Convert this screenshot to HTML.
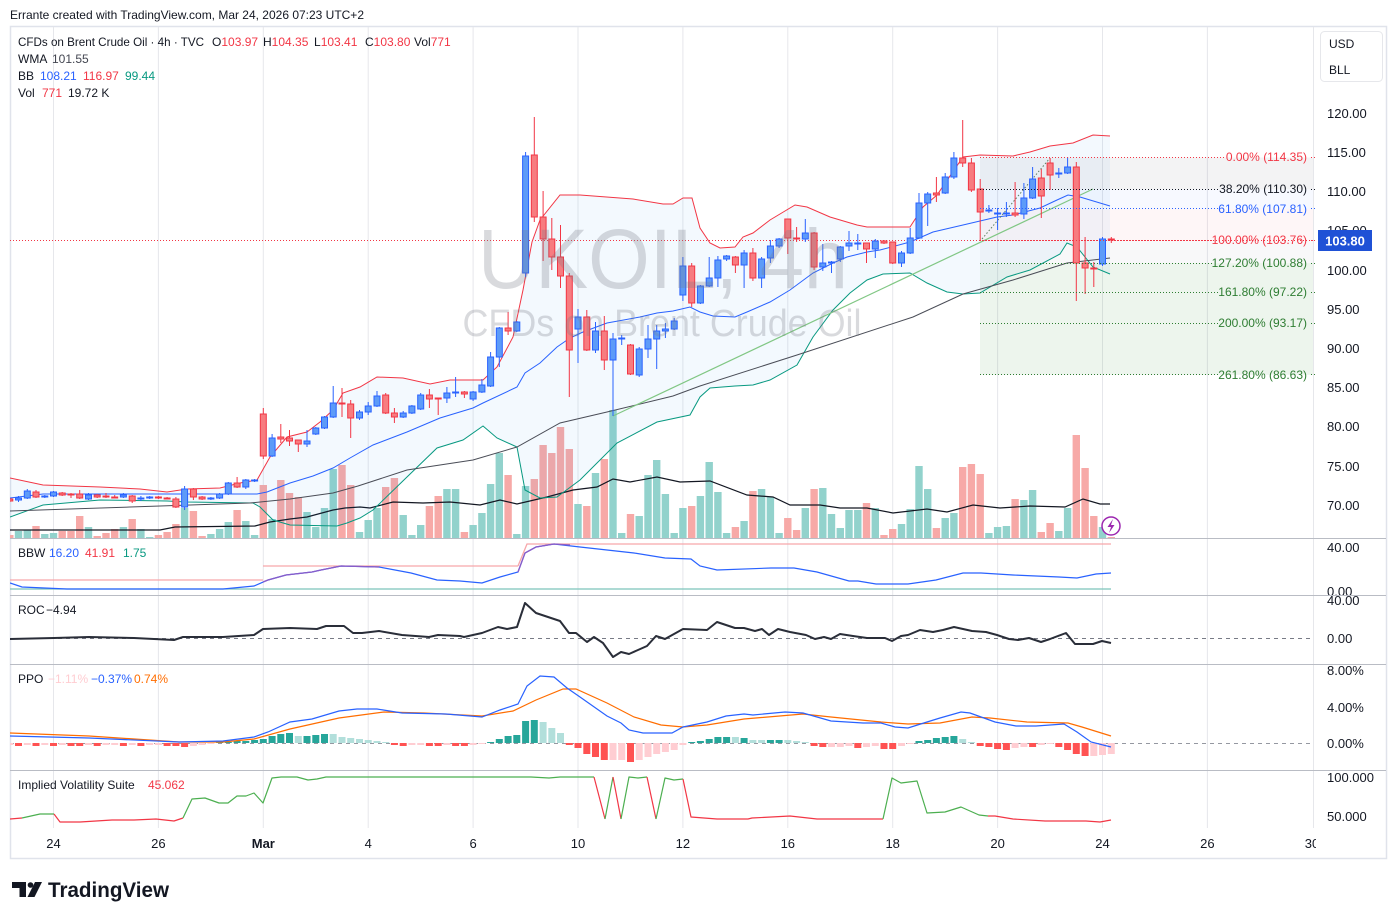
<!DOCTYPE html>
<html><head><meta charset="utf-8"><style>
html,body{margin:0;padding:0;background:#fff;}
svg{display:block;font-family:"Liberation Sans",Arial,sans-serif;}
</style></head><body>
<svg width="1396" height="920" viewBox="0 0 1396 920" xmlns="http://www.w3.org/2000/svg">
<defs>
<clipPath id="plot"><rect x="10" y="27" width="1303" height="511"/></clipPath>
<clipPath id="lower"><rect x="10" y="538" width="1303" height="292"/></clipPath>
</defs>
<rect width="1396" height="920" fill="#fff"/>
<text x="10" y="19" font-size="12" fill="#131722" textLength="354">Errante created with TradingView.com, Mar 24, 2026 07:23 UTC+2</text>
<!-- frame -->
<rect x="10.5" y="26.5" width="1376" height="832" fill="none" stroke="#e0e3eb" stroke-width="1.5"/>
<!-- vertical grid -->
<g stroke="#e6e7eb" stroke-width="1">
<path d="M53.5 27V828M158.4 27V828M263.3 27V828M368.2 27V828M473.1 27V828M578 27V828M682.9 27V828M787.8 27V828M892.7 27V828M997.6 27V828M1102.5 27V828M1207.4 27V828M1313.5 27V828"/>
</g>

<g clip-path="url(#plot)">
<!-- volume -->
<g fill="#92d2cc">
<rect x="14.8" y="531" width="7.4" height="7"/><rect x="23.6" y="530" width="7.4" height="8"/><rect x="41.1" y="534" width="7.4" height="4"/><rect x="49.8" y="533" width="7.4" height="5"/><rect x="84.8" y="527" width="7.4" height="11"/><rect x="119.7" y="527" width="7.4" height="11"/><rect x="137.2" y="529" width="7.4" height="9"/><rect x="146" y="537" width="7.4" height="1"/><rect x="180.9" y="508" width="7.4" height="30"/><rect x="207.2" y="534" width="7.4" height="4"/><rect x="215.9" y="529" width="7.4" height="9"/><rect x="224.6" y="522" width="7.4" height="16"/><rect x="242.1" y="521" width="7.4" height="17"/><rect x="250.9" y="535" width="7.4" height="3"/><rect x="268.4" y="519" width="7.4" height="19"/><rect x="303.3" y="512" width="7.4" height="26"/><rect x="312.1" y="527" width="7.4" height="11"/><rect x="320.8" y="508" width="7.4" height="30"/><rect x="329.5" y="469" width="7.4" height="69"/><rect x="355.8" y="532" width="7.4" height="6"/><rect x="364.5" y="520" width="7.4" height="18"/><rect x="373.3" y="508" width="7.4" height="30"/><rect x="399.5" y="515" width="7.4" height="23"/><rect x="408.2" y="535" width="7.4" height="3"/><rect x="417" y="525" width="7.4" height="13"/><rect x="443.2" y="489" width="7.4" height="49"/><rect x="451.9" y="489" width="7.4" height="49"/><rect x="469.4" y="525" width="7.4" height="13"/><rect x="478.2" y="513" width="7.4" height="25"/><rect x="486.9" y="484" width="7.4" height="54"/><rect x="495.6" y="453" width="7.4" height="85"/><rect x="513.1" y="534" width="7.4" height="4"/><rect x="521.9" y="486" width="7.4" height="52"/><rect x="574.3" y="504" width="7.4" height="34"/><rect x="591.8" y="473" width="7.4" height="65"/><rect x="609.3" y="410" width="7.4" height="128"/><rect x="618" y="533" width="7.4" height="5"/><rect x="635.5" y="516" width="7.4" height="22"/><rect x="644.3" y="475" width="7.4" height="63"/><rect x="653" y="460" width="7.4" height="78"/><rect x="661.7" y="494" width="7.4" height="44"/><rect x="670.5" y="533" width="7.4" height="5"/><rect x="679.2" y="508" width="7.4" height="30"/><rect x="696.7" y="496" width="7.4" height="42"/><rect x="705.5" y="462" width="7.4" height="76"/><rect x="714.2" y="492" width="7.4" height="46"/><rect x="722.9" y="533" width="7.4" height="5"/><rect x="740.4" y="521" width="7.4" height="17"/><rect x="757.9" y="489" width="7.4" height="49"/><rect x="766.7" y="497" width="7.4" height="41"/><rect x="775.4" y="533" width="7.4" height="5"/><rect x="801.6" y="508" width="7.4" height="30"/><rect x="819.1" y="488" width="7.4" height="50"/><rect x="827.8" y="514" width="7.4" height="24"/><rect x="836.6" y="528" width="7.4" height="10"/><rect x="845.3" y="510" width="7.4" height="28"/><rect x="854.1" y="510" width="7.4" height="28"/><rect x="871.6" y="508" width="7.4" height="30"/><rect x="897.8" y="524" width="7.4" height="14"/><rect x="906.5" y="509" width="7.4" height="29"/><rect x="915.3" y="466" width="7.4" height="72"/><rect x="924" y="489" width="7.4" height="49"/><rect x="941.5" y="518" width="7.4" height="20"/><rect x="950.2" y="513" width="7.4" height="25"/><rect x="985.2" y="533" width="7.4" height="5"/><rect x="993.9" y="527" width="7.4" height="11"/><rect x="1002.7" y="526" width="7.4" height="12"/><rect x="1020.2" y="500" width="7.4" height="38"/><rect x="1028.9" y="490" width="7.4" height="48"/><rect x="1055.1" y="531" width="7.4" height="7"/><rect x="1063.9" y="508" width="7.4" height="30"/><rect x="1098.8" y="527" width="7.4" height="11"/>
</g>
<g fill="#f7a9a7">
<rect x="6.1" y="535" width="7.4" height="3"/><rect x="32.3" y="526" width="7.4" height="12"/><rect x="58.5" y="531" width="7.4" height="7"/><rect x="67.3" y="531" width="7.4" height="7"/><rect x="76" y="516" width="7.4" height="22"/><rect x="93.5" y="536" width="7.4" height="2"/><rect x="102.3" y="533" width="7.4" height="5"/><rect x="111" y="529" width="7.4" height="9"/><rect x="128.5" y="519" width="7.4" height="19"/><rect x="154.7" y="535" width="7.4" height="3"/><rect x="163.4" y="532" width="7.4" height="6"/><rect x="172.2" y="524" width="7.4" height="14"/><rect x="189.7" y="511" width="7.4" height="27"/><rect x="198.4" y="536" width="7.4" height="2"/><rect x="233.4" y="510" width="7.4" height="28"/><rect x="259.6" y="485" width="7.4" height="53"/><rect x="277.1" y="480" width="7.4" height="58"/><rect x="285.8" y="493" width="7.4" height="45"/><rect x="294.6" y="497" width="7.4" height="41"/><rect x="338.3" y="465" width="7.4" height="73"/><rect x="347" y="485" width="7.4" height="53"/><rect x="382" y="487" width="7.4" height="51"/><rect x="390.7" y="478" width="7.4" height="60"/><rect x="425.7" y="506" width="7.4" height="32"/><rect x="434.5" y="496" width="7.4" height="42"/><rect x="460.7" y="532" width="7.4" height="6"/><rect x="504.4" y="475" width="7.4" height="63"/><rect x="530.6" y="479" width="7.4" height="59"/><rect x="539.4" y="445" width="7.4" height="93"/><rect x="548.1" y="453" width="7.4" height="85"/><rect x="556.8" y="427" width="7.4" height="111"/><rect x="565.6" y="449" width="7.4" height="89"/><rect x="583.1" y="506" width="7.4" height="32"/><rect x="600.6" y="459" width="7.4" height="79"/><rect x="626.8" y="514" width="7.4" height="24"/><rect x="688" y="506" width="7.4" height="32"/><rect x="731.7" y="527" width="7.4" height="11"/><rect x="749.2" y="491" width="7.4" height="47"/><rect x="784.1" y="518" width="7.4" height="20"/><rect x="792.9" y="530" width="7.4" height="8"/><rect x="810.4" y="489" width="7.4" height="49"/><rect x="862.8" y="503" width="7.4" height="35"/><rect x="880.3" y="535" width="7.4" height="3"/><rect x="889" y="529" width="7.4" height="9"/><rect x="932.7" y="528" width="7.4" height="10"/><rect x="959" y="467" width="7.4" height="71"/><rect x="967.7" y="464" width="7.4" height="74"/><rect x="976.5" y="474" width="7.4" height="64"/><rect x="1011.4" y="499" width="7.4" height="39"/><rect x="1037.6" y="532" width="7.4" height="6"/><rect x="1046.4" y="523" width="7.4" height="15"/><rect x="1072.6" y="435" width="7.4" height="103"/><rect x="1081.4" y="468" width="7.4" height="70"/><rect x="1090.1" y="516" width="7.4" height="22"/><rect x="1107.6" y="537" width="7.4" height="1"/>
</g>
<!-- vol MA -->
<polyline fill="none" stroke="#131722" stroke-width="1.2" points="10,530 160,530 175,527 255,526 270,522 290,519 307,517 333,510 345,508 360,507 370,508 393,502 423,503 450,502 480,505 500,500 517,504 547,497 573,490 597,487 613,479 630,482 657,477 680,482 710,481 747,495 773,497 790,505 820,505 840,508 867,508 893,513 927,509 947,512 973,505 1000,508 1030,506 1065,507 1083,499 1100,504 1110,504"/>

<!-- BB fill -->
<polygon fill="#2196f3" fill-opacity="0.055" points="10,478 43,485 100,487 140,489 167,492 187,489 220,488 240,483 257,480 270,457 287,437 307,432 320,422 333,410 343,393 360,387 377,377 403,378 430,384 450,380 483,380 497,367 513,337 523,290 532,242 540,220 560,195 580,195 633,199 663,204 673,204 683,198 692,198 700,228 710,243 720,248 735,247 743,237 753,233 770,220 795,205 807,207 830,217 857,225 867,227 910,227 923,207 937,195 963,157 980,155 1013,156 1030,152 1050,146 1073,143 1093,135 1110,136 1110,274 1093,267 1077,247 1067,243 1060,254 1030,270 1007,277 980,293 963,294 947,292 927,283 910,273 883,274 867,280 850,293 833,310 813,337 797,365 770,380 753,385 735,386 710,388 700,397 690,415 657,422 617,443 580,480 557,497 540,498 525,490 517,447 497,438 483,426 463,440 437,448 407,477 373,510 360,518 347,523 337,526 290,525 273,520 260,507 253,503 187,502 167,501 100,500 43,505 10,517"/>

<!-- fib fills -->
<rect x="980" y="157.5" width="336" height="31.7" fill="#787b86" fill-opacity="0.09"/>
<rect x="980" y="189.2" width="336" height="19.6" fill="#2962ff" fill-opacity="0.035"/>
<rect x="980" y="208.8" width="336" height="31.7" fill="#f23645" fill-opacity="0.045"/>
<rect x="980" y="240.5" width="336" height="22.6" fill="#787b86" fill-opacity="0.05"/>
<rect x="980" y="263.1" width="336" height="111.7" fill="#388e3c" fill-opacity="0.09"/>

<!-- BB lines -->
<polyline fill="none" stroke="#f23645" stroke-width="1" points="10,478 43,485 100,487 140,489 167,492 187,489 220,488 240,483 257,480 270,457 287,437 307,432 320,422 333,410 343,393 360,387 377,377 403,378 430,384 450,380 483,380 497,367 513,337 523,290 532,242 540,220 560,195 580,195 633,199 663,204 673,204 683,198 692,198 700,228 710,243 720,248 735,247 743,237 753,233 770,220 795,205 807,207 830,217 857,225 867,227 910,227 923,207 937,195 963,157 980,155 1013,156 1030,152 1050,146 1073,143 1093,135 1110,136"/>
<polyline fill="none" stroke="#2962ff" stroke-width="1" points="10,498 43,494 167,494 257,494 267,492 290,483 313,476 333,468 350,458 373,445 407,432 440,418 473,408 483,403 517,387 525,373 540,363 557,347 570,338 583,332 607,323 640,317 657,313 673,311 690,307 700,312 713,316 735,317 747,312 770,302 790,290 813,273 833,263 847,257 867,252 880,250 910,242 933,232 963,225 997,217 1013,215 1040,208 1057,200 1068,195 1080,197 1110,206"/>
<polyline fill="none" stroke="#089981" stroke-width="1" points="10,517 43,505 100,500 167,501 187,502 253,503 260,507 273,520 290,525 337,526 347,523 360,518 373,510 407,477 437,448 463,440 483,426 497,438 517,447 525,490 540,498 557,497 580,480 617,443 657,422 690,415 700,397 710,388 735,386 753,385 770,380 797,365 813,337 833,310 850,293 867,280 883,274 910,273 927,283 947,292 963,294 980,293 1007,277 1030,270 1060,254 1067,243 1077,247 1093,267 1110,274"/>
<!-- WMA -->
<polyline fill="none" stroke="#4a4d57" stroke-width="1" points="10,511 130,507 250,503 290,499 333,493 358,486 407,470 473,460 517,447 560,423 607,412 673,396 700,386 797,355 913,317 963,294 1013,280 1067,263 1110,258"/>
<!-- trend line -->
<line x1="613" y1="416" x2="1093" y2="189" stroke="#81c784" stroke-width="1.2"/>
<line x1="982" y1="239" x2="1050" y2="158" stroke="#5d7f62" stroke-width="1" stroke-dasharray="1.5 2"/>

<!-- price line -->
<line x1="10" y1="240.5" x2="1316" y2="240.5" stroke="#f23645" stroke-width="1" stroke-dasharray="1 2"/>

<!-- candles -->
<path fill="none" stroke="#2962ff" stroke-width="1" d="M18.5 496V502M27.3 489V499M44.8 495V498M53.5 491V497M88.5 493V500M123.4 493V498M140.9 496V501M149.7 496V499M184.6 486V510M210.9 497V500M219.6 493V499M228.3 482V495M245.8 479V489M254.6 479V482M272.1 434V457M307 430V447M315.8 427V435M324.5 416V429M333.2 386V418M359.5 410V420M368.2 402V415M377 391V407M403.2 411V418M411.9 405V414M420.7 393V410M446.9 387V403M455.6 377V397M473.1 391V401M481.9 379V393M490.6 352V387M499.3 327V367M516.8 321V332M525.6 152V277M578 309V363M595.5 322V353M613 333V416M621.7 335V345M639.2 347V377M648 325V358M656.7 325V369M665.4 323V338M674.2 318V330M682.9 257V301M700.4 285V304M709.2 257V287M717.9 256V287M726.6 255V261M744.1 250V288M761.6 257V288M770.4 240V263M779.1 238V248M805.3 219V242M822.8 244V271M831.5 261V273M840.3 246V262M849 231V251M857.8 234V250M875.3 239V258M901.5 251V267M910.2 228V254M919 193V239M927.7 192V226M945.2 173V194M953.9 152V179M988.9 205V213M997.6 208V230M1006.4 202V217M1023.9 183V219M1032.6 167V199M1058.8 168V178M1067.6 157V174M1102.5 237V266"/>
<g fill="#5d9bf8" stroke="#2962ff" stroke-width="1">
<rect x="15.5" y="498" width="6" height="2"/><rect x="24.3" y="491" width="6" height="7"/><rect x="41.8" y="496" width="6" height="1"/><rect x="50.5" y="492" width="6" height="4"/><rect x="85.5" y="495" width="6" height="4"/><rect x="120.4" y="495" width="6" height="2"/><rect x="137.9" y="498" width="6" height="1"/><rect x="146.7" y="497" width="6" height="1"/><rect x="181.6" y="489" width="6" height="18"/><rect x="207.9" y="498" width="6" height="1"/><rect x="216.6" y="494" width="6" height="4"/><rect x="225.3" y="483" width="6" height="11"/><rect x="242.8" y="480" width="6" height="7"/><rect x="251.6" y="480" width="6" height="1"/><rect x="269.1" y="438" width="6" height="18"/><rect x="304" y="441" width="6" height="3"/><rect x="312.8" y="428" width="6" height="6"/><rect x="321.5" y="417" width="6" height="11"/><rect x="330.2" y="403" width="6" height="14"/><rect x="356.5" y="412" width="6" height="6"/><rect x="365.2" y="406" width="6" height="6"/><rect x="374" y="396" width="6" height="10"/><rect x="400.2" y="413" width="6" height="4"/><rect x="408.9" y="406" width="6" height="7"/><rect x="417.7" y="395" width="6" height="14"/><rect x="443.9" y="393" width="6" height="5"/><rect x="452.6" y="392" width="6" height="1"/><rect x="470.1" y="392" width="6" height="7"/><rect x="478.9" y="385" width="6" height="7"/><rect x="487.6" y="357" width="6" height="29"/><rect x="496.3" y="328" width="6" height="29"/><rect x="513.8" y="322" width="6" height="9"/><rect x="522.6" y="156" width="6" height="117"/><rect x="575" y="317" width="6" height="12"/><rect x="592.5" y="331" width="6" height="19"/><rect x="610" y="339" width="6" height="21"/><rect x="618.7" y="338" width="6" height="1"/><rect x="636.2" y="349" width="6" height="26"/><rect x="645" y="339" width="6" height="10"/><rect x="653.7" y="331" width="6" height="8"/><rect x="662.4" y="329" width="6" height="2"/><rect x="671.2" y="321" width="6" height="8"/><rect x="679.9" y="266" width="6" height="29"/><rect x="697.4" y="286" width="6" height="17"/><rect x="706.2" y="278" width="6" height="8"/><rect x="714.9" y="260" width="6" height="18"/><rect x="723.6" y="256" width="6" height="3"/><rect x="741.1" y="253" width="6" height="12"/><rect x="758.6" y="259" width="6" height="19"/><rect x="767.4" y="246" width="6" height="12"/><rect x="776.1" y="239" width="6" height="7"/><rect x="802.3" y="233" width="6" height="6"/><rect x="819.8" y="263" width="6" height="4"/><rect x="828.5" y="262" width="6" height="1"/><rect x="837.3" y="247" width="6" height="12"/><rect x="846" y="243" width="6" height="3"/><rect x="854.8" y="243" width="6" height="1"/><rect x="872.3" y="241" width="6" height="8"/><rect x="898.5" y="253" width="6" height="10"/><rect x="907.2" y="238" width="6" height="15"/><rect x="916" y="203" width="6" height="35"/><rect x="924.7" y="194" width="6" height="9"/><rect x="942.2" y="177" width="6" height="16"/><rect x="950.9" y="158" width="6" height="19"/><rect x="985.9" y="210" width="6" height="1"/><rect x="994.6" y="213" width="6" height="1"/><rect x="1003.4" y="213" width="6" height="1"/><rect x="1020.9" y="198" width="6" height="16"/><rect x="1029.6" y="179" width="6" height="19"/><rect x="1055.8" y="173" width="6" height="1"/><rect x="1064.6" y="167" width="6" height="6"/><rect x="1099.5" y="239" width="6" height="25"/>
</g>
<path fill="none" stroke="#f23645" stroke-width="1" d="M9.8 498V502M36 490V498M62.2 492V496M71 493V498M79.7 490V499M97.2 494V498M106 493V498M114.7 495V498M132.2 495V503M158.4 496V499M167.1 497V499M175.9 497V508M193.4 488V500M202.1 496V500M237.1 477V488M263.3 408V459M280.8 424V443M289.5 430V446M298.3 440V452M342 388V417M350.7 400V438M385.7 393V414M394.4 408V423M429.4 389V408M438.2 398V415M464.4 391V398M508.1 312V335M534.3 117V222M543.1 191V261M551.8 218V270M560.5 225V288M569.3 273V397M586.8 310V351M604.3 316V370M630.5 344V375M691.7 263V307M735.4 256V273M752.9 248V281M787.8 219V254M796.6 227V242M814.1 232V270M866.5 243V263M884 240V244M892.7 242V264M936.4 177V202M962.7 120V167M971.4 158V192M980.2 179V240M1015.1 182V217M1041.3 169V218M1050.1 158V190M1076.3 162V301M1085.1 237V294M1093.8 262V287M1111.3 237V243"/>
<g fill="#f77c80" stroke="#f23645" stroke-width="1">
<rect x="6.8" y="499" width="6" height="2"/><rect x="33" y="492" width="6" height="5"/><rect x="59.2" y="493" width="6" height="2"/><rect x="68" y="494" width="6" height="1"/><rect x="76.7" y="494" width="6" height="4"/><rect x="94.2" y="495" width="6" height="2"/><rect x="103" y="496" width="6" height="1"/><rect x="111.7" y="497" width="6" height="1"/><rect x="129.2" y="496" width="6" height="5"/><rect x="155.4" y="497" width="6" height="1"/><rect x="164.1" y="498" width="6" height="1"/><rect x="172.9" y="499" width="6" height="8"/><rect x="190.4" y="489" width="6" height="8"/><rect x="199.1" y="497" width="6" height="2"/><rect x="234.1" y="483" width="6" height="4"/><rect x="260.3" y="414" width="6" height="42"/><rect x="277.8" y="437" width="6" height="2"/><rect x="286.5" y="438" width="6" height="3"/><rect x="295.3" y="440" width="6" height="4"/><rect x="339" y="403" width="6" height="1"/><rect x="347.7" y="404" width="6" height="14"/><rect x="382.7" y="395" width="6" height="18"/><rect x="391.4" y="413" width="6" height="4"/><rect x="426.4" y="395" width="6" height="4"/><rect x="435.2" y="398" width="6" height="1"/><rect x="461.4" y="392" width="6" height="2"/><rect x="505.1" y="328" width="6" height="3"/><rect x="531.3" y="155" width="6" height="62"/><rect x="540.1" y="217" width="6" height="22"/><rect x="548.8" y="239" width="6" height="18"/><rect x="557.5" y="257" width="6" height="19"/><rect x="566.3" y="276" width="6" height="74"/><rect x="583.8" y="317" width="6" height="33"/><rect x="601.3" y="331" width="6" height="29"/><rect x="627.5" y="345" width="6" height="29"/><rect x="688.7" y="266" width="6" height="37"/><rect x="732.4" y="257" width="6" height="8"/><rect x="749.9" y="253" width="6" height="25"/><rect x="784.8" y="219" width="6" height="19"/><rect x="793.6" y="238" width="6" height="1"/><rect x="811.1" y="233" width="6" height="34"/><rect x="863.5" y="243" width="6" height="6"/><rect x="881" y="241" width="6" height="2"/><rect x="889.7" y="242" width="6" height="21"/><rect x="933.4" y="193" width="6" height="2"/><rect x="959.7" y="158" width="6" height="5"/><rect x="968.4" y="163" width="6" height="27"/><rect x="977.2" y="189" width="6" height="23"/><rect x="1012.1" y="213" width="6" height="2"/><rect x="1038.3" y="178" width="6" height="18"/><rect x="1047.1" y="163" width="6" height="12"/><rect x="1073.3" y="167" width="6" height="96"/><rect x="1082.1" y="263" width="6" height="5"/><rect x="1090.8" y="268" width="6" height="1"/><rect x="1108.3" y="239" width="6" height="1"/>
</g>
</g>

<!-- watermark -->
<g fill="#787b86" fill-opacity="0.28">
<text x="663" y="288" font-size="84" text-anchor="middle" textLength="370" lengthAdjust="spacingAndGlyphs">UKOIL, 4h</text>
<text x="662" y="336" font-size="38" text-anchor="middle" textLength="399" lengthAdjust="spacingAndGlyphs">CFDs on Brent Crude Oil</text>
</g>

<!-- fib lines -->
<g fill="none" stroke-width="1" stroke-dasharray="1 2">
<path stroke="#f23645" d="M980 157.5H1225M1311 157.5H1316"/>
<path stroke="#131722" d="M980 189.5H1219M1311 189.5H1316"/>
<path stroke="#2962ff" d="M980 208.5H1219M1311 208.5H1316"/>
<path stroke="#f23645" d="M980 240.5H1214M1311 240.5H1316"/>
<path stroke="#2e7d32" d="M980 263.5H1214M1311 263.5H1316M980 292.5H1219M1311 292.5H1316M980 323.5H1219M1311 323.5H1316M980 374.5H1219M1311 374.5H1316"/>
</g>
<g font-size="12" text-anchor="end">
<text x="1307" y="161" fill="#f23645">0.00% (114.35)</text>
<text x="1307" y="193" fill="#131722">38.20% (110.30)</text>
<text x="1307" y="213" fill="#2962ff">61.80% (107.81)</text>
<text x="1307" y="244" fill="#f23645">100.00% (103.76)</text>
<text x="1307" y="267" fill="#2e7d32">127.20% (100.88)</text>
<text x="1307" y="296" fill="#2e7d32">161.80% (97.22)</text>
<text x="1307" y="327" fill="#2e7d32">200.00% (93.17)</text>
<text x="1307" y="379" fill="#2e7d32">261.80% (86.63)</text>
</g>

<!-- legend -->
<g font-size="12" fill="#131722">
<text x="18" y="46" textLength="186" lengthAdjust="spacingAndGlyphs">CFDs on Brent Crude Oil · 4h · TVC</text>
<text x="212" y="46">O<tspan fill="#f23645">103.97</tspan></text>
<text x="263" y="46">H<tspan fill="#f23645">104.35</tspan></text>
<text x="314" y="46">L<tspan fill="#f23645">103.41</tspan></text>
<text x="365" y="46">C<tspan fill="#f23645">103.80</tspan></text>
<text x="414" y="46">Vol<tspan fill="#f23645">771</tspan></text>
<text x="18" y="63">WMA</text><text x="52" y="63" fill="#434651">101.55</text>
<text x="18" y="80">BB</text><text x="40" y="80" fill="#2962ff">108.21</text><text x="83" y="80" fill="#f23645">116.97</text><text x="125" y="80" fill="#089981">99.44</text>
<text x="18" y="97">Vol</text><text x="42" y="97" fill="#f23645">771</text><text x="68" y="97">19.72 K</text>
</g>

<!-- lightning icon -->
<circle cx="1111" cy="526" r="9" fill="#fff" stroke="#9c27b0" stroke-width="1.5"/>
<path d="M1113 519 L1107.5 527 H1111 L1109 533 L1114.5 525 H1111 Z" fill="#9c27b0"/>

<!-- right axis -->
<rect x="1320.5" y="31.5" width="62" height="50" rx="4" fill="#fff" stroke="#e6e7eb"/>
<text x="1329" y="48" font-size="12" fill="#131722">USD</text>
<text x="1329" y="74" font-size="12" fill="#131722">BLL</text>
<g font-size="13" fill="#131722">
<text x="1327" y="118">120.00</text>
<text x="1327" y="157">115.00</text>
<text x="1327" y="196">110.00</text>
<text x="1327" y="235">105.00</text>
<text x="1327" y="275">100.00</text>
<text x="1327" y="314">95.00</text>
<text x="1327" y="353">90.00</text>
<text x="1327" y="392">85.00</text>
<text x="1327" y="431">80.00</text>
<text x="1327" y="471">75.00</text>
<text x="1327" y="510">70.00</text>
<text x="1327" y="552">40.00</text>
<text x="1327" y="596">0.00</text>
<text x="1327" y="605">40.00</text>
<text x="1327" y="643">0.00</text>
<text x="1327" y="675">8.00%</text>
<text x="1327" y="712">4.00%</text>
<text x="1327" y="748">0.00%</text>
<text x="1327" y="782">100.000</text>
<text x="1327" y="821">50.000</text>
</g>
<rect x="1318" y="230" width="54" height="21" fill="#1f51d6"/>
<text x="1345" y="245.5" font-size="13" font-weight="bold" fill="#fff" text-anchor="middle">103.80</text>

<!-- pane separators -->
<g stroke="#b9bcc4" stroke-width="1">
<path d="M10 538.5H1386M10 595.5H1386M10 664.5H1386M10 770.5H1386"/>
</g>

<g clip-path="url(#lower)">
<!-- BBW -->
<path fill="none" stroke="#f7a6aa" stroke-width="1.3" d="M10 580H263M263 566H518M518 566L527 544H1111"/>
<path fill="none" stroke="#7cc4bb" stroke-width="1.2" d="M10 589H1111"/>
<polyline fill="none" stroke="#2962ff" stroke-width="1.2" points="10,583 22,587 67,589 156,589 223,589 254,586 268,580 286,575 312,572 321,570 341,566 379,567 411,573 437,580 460,581 482,583 500,577 518,572 525,553 536,547 554,544 580,547 634,553 665,558 691,559 700,566 717,570 771,568 794,568 817,572 849,581 858,581 876,584 908,584 936,580 963,573 981,573 1013,575 1059,577 1077,578 1096,574 1111,573"/>
<polyline fill="none" stroke="#8a5cc7" stroke-width="1.3" points="263,582 268,580 286,575 312,572 321,570 341,566 379,567"/>
<polyline fill="none" stroke="#8a5cc7" stroke-width="1.3" points="518,572 525,553 536,547 554,544 570,545"/>

<!-- ROC -->
<line x1="10" y1="638.5" x2="1313" y2="638.5" stroke="#787b86" stroke-width="1" stroke-dasharray="4 4"/>
<polyline fill="none" stroke="#2a2e39" stroke-width="2" stroke-linejoin="round" points="10,639 54,638 89,637 134,638 174,640 183,637 223,637 254,635 263,629 290,628 317,629 326,626 344,626 353,633 362,633 379,631 402,635 429,637 438,635 460,636 464,637 482,633 498,627 507,629 517,627 525,603 536,613 560,621 569,633 576,633 587,642 594,637 603,643 613,657 621,652 629,654 647,646 656,636 665,639 683,629 707,630 717,622 735,628 744,628 755,631 762,629 769,635 778,629 790,632 806,635 815,639 824,637 831,639 840,634 853,636 867,638 885,638 892,641 901,636 908,635 920,630 933,632 943,630 954,627 972,631 986,632 997,635 1009,639 1018,640 1029,638 1041,642 1050,639 1066,633 1075,644 1093,644 1102,641 1111,643"/>

<!-- PPO -->
<line x1="10" y1="743.5" x2="1313" y2="743.5" stroke="#9598a1" stroke-width="1" stroke-dasharray="4 4"/>
<g fill="#26a69a">
<rect x="216.1" y="742" width="7" height="1"/><rect x="224.8" y="742" width="7" height="1"/><rect x="233.6" y="741" width="7" height="2"/><rect x="242.3" y="741" width="7" height="2"/><rect x="251.1" y="740" width="7" height="3"/><rect x="259.8" y="739" width="7" height="4"/><rect x="268.6" y="736" width="7" height="7"/><rect x="277.3" y="734" width="7" height="9"/><rect x="286" y="733" width="7" height="10"/><rect x="303.5" y="736" width="7" height="7"/><rect x="312.3" y="735" width="7" height="8"/><rect x="321" y="734" width="7" height="9"/><rect x="487.1" y="742" width="7" height="1"/><rect x="495.8" y="739" width="7" height="4"/><rect x="504.6" y="736" width="7" height="7"/><rect x="513.3" y="735" width="7" height="8"/><rect x="522.1" y="721" width="7" height="22"/><rect x="530.8" y="720" width="7" height="23"/><rect x="688.2" y="742" width="7" height="1"/><rect x="696.9" y="741" width="7" height="2"/><rect x="705.7" y="739" width="7" height="4"/><rect x="714.4" y="737" width="7" height="6"/><rect x="723.1" y="737" width="7" height="6"/><rect x="740.6" y="738" width="7" height="5"/><rect x="766.9" y="740" width="7" height="3"/><rect x="775.6" y="740" width="7" height="3"/><rect x="915.5" y="741" width="7" height="2"/><rect x="924.2" y="740" width="7" height="3"/><rect x="932.9" y="738" width="7" height="5"/><rect x="941.7" y="737" width="7" height="6"/><rect x="950.4" y="736" width="7" height="7"/>
</g>
<g fill="#b2dfdb">
<rect x="294.8" y="736" width="7" height="7"/><rect x="329.7" y="734" width="7" height="9"/><rect x="338.5" y="737" width="7" height="6"/><rect x="347.2" y="738" width="7" height="5"/><rect x="356" y="739" width="7" height="4"/><rect x="364.7" y="740" width="7" height="3"/><rect x="373.5" y="741" width="7" height="2"/><rect x="382.2" y="742" width="7" height="1"/><rect x="539.6" y="722" width="7" height="21"/><rect x="548.3" y="728" width="7" height="15"/><rect x="557" y="733" width="7" height="10"/><rect x="731.9" y="737" width="7" height="6"/><rect x="749.4" y="740" width="7" height="3"/><rect x="758.1" y="740" width="7" height="3"/><rect x="784.3" y="740" width="7" height="3"/><rect x="793.1" y="741" width="7" height="2"/><rect x="801.8" y="742" width="7" height="1"/><rect x="959.2" y="739" width="7" height="4"/><rect x="967.9" y="742" width="7" height="1"/>
</g>
<g fill="#ff5252">
<rect x="15" y="743" width="7" height="3"/><rect x="32.5" y="743" width="7" height="3"/><rect x="50" y="743" width="7" height="3"/><rect x="67.5" y="743" width="7" height="3"/><rect x="76.2" y="743" width="7" height="3"/><rect x="93.7" y="743" width="7" height="3"/><rect x="119.9" y="743" width="7" height="3"/><rect x="137.4" y="743" width="7" height="3"/><rect x="163.6" y="743" width="7" height="3"/><rect x="172.4" y="743" width="7" height="3"/><rect x="181.1" y="743" width="7" height="4"/><rect x="390.9" y="743" width="7" height="2"/><rect x="399.7" y="743" width="7" height="3"/><rect x="425.9" y="743" width="7" height="3"/><rect x="434.7" y="743" width="7" height="3"/><rect x="452.1" y="743" width="7" height="3"/><rect x="460.9" y="743" width="7" height="3"/><rect x="565.8" y="743" width="7" height="2"/><rect x="574.5" y="743" width="7" height="5"/><rect x="583.3" y="743" width="7" height="11"/><rect x="592" y="743" width="7" height="14"/><rect x="600.8" y="743" width="7" height="17"/><rect x="627" y="743" width="7" height="19"/><rect x="810.6" y="743" width="7" height="3"/><rect x="819.3" y="743" width="7" height="4"/><rect x="854.3" y="743" width="7" height="5"/><rect x="880.5" y="743" width="7" height="6"/><rect x="889.2" y="743" width="7" height="6"/><rect x="976.7" y="743" width="7" height="3"/><rect x="985.4" y="743" width="7" height="4"/><rect x="994.1" y="743" width="7" height="6"/><rect x="1002.9" y="743" width="7" height="7"/><rect x="1029.1" y="743" width="7" height="4"/><rect x="1055.3" y="743" width="7" height="4"/><rect x="1064.1" y="743" width="7" height="7"/><rect x="1072.8" y="743" width="7" height="11"/><rect x="1081.6" y="743" width="7" height="13"/>
</g>
<g fill="#ffcdd2">
<rect x="6.3" y="743" width="7" height="2"/><rect x="23.8" y="743" width="7" height="2"/><rect x="41.3" y="743" width="7" height="2"/><rect x="58.7" y="743" width="7" height="2"/><rect x="85" y="743" width="7" height="2"/><rect x="102.5" y="743" width="7" height="2"/><rect x="111.2" y="743" width="7" height="2"/><rect x="128.7" y="743" width="7" height="2"/><rect x="146.2" y="743" width="7" height="2"/><rect x="154.9" y="743" width="7" height="2"/><rect x="189.9" y="743" width="7" height="3"/><rect x="198.6" y="743" width="7" height="2"/><rect x="207.4" y="743" width="7" height="1"/><rect x="408.4" y="743" width="7" height="2"/><rect x="417.2" y="743" width="7" height="2"/><rect x="443.4" y="743" width="7" height="2"/><rect x="469.6" y="743" width="7" height="2"/><rect x="478.4" y="743" width="7" height="1"/><rect x="609.5" y="743" width="7" height="17"/><rect x="618.2" y="743" width="7" height="17"/><rect x="635.7" y="743" width="7" height="17"/><rect x="644.5" y="743" width="7" height="14"/><rect x="653.2" y="743" width="7" height="11"/><rect x="661.9" y="743" width="7" height="9"/><rect x="670.7" y="743" width="7" height="7"/><rect x="679.4" y="743" width="7" height="2"/><rect x="828" y="743" width="7" height="4"/><rect x="836.8" y="743" width="7" height="4"/><rect x="845.5" y="743" width="7" height="3"/><rect x="863" y="743" width="7" height="4"/><rect x="871.8" y="743" width="7" height="3"/><rect x="898" y="743" width="7" height="3"/><rect x="906.7" y="743" width="7" height="1"/><rect x="1011.6" y="743" width="7" height="5"/><rect x="1020.4" y="743" width="7" height="4"/><rect x="1037.8" y="743" width="7" height="2"/><rect x="1046.6" y="743" width="7" height="1"/><rect x="1090.3" y="743" width="7" height="13"/><rect x="1099" y="743" width="7" height="12"/><rect x="1107.8" y="743" width="7" height="11"/>
</g>
<polyline fill="none" stroke="#ff6d00" stroke-width="1.2" points="10,733 89,736 179,742 223,742 254,739 290,729 339,718 384,712 424,713 482,716 513,711 536,700 563,689 576,689 607,703 634,717 661,725 683,727 707,725 744,719 803,714 831,717 881,722 908,724 940,723 972,717 990,718 1027,722 1068,723 1082,727 1111,736"/>
<polyline fill="none" stroke="#2962ff" stroke-width="1.2" points="10,736 89,738 179,742 223,741 254,737 268,732 290,722 312,719 339,711 357,709 377,709 402,713 446,714 482,717 500,710 518,704 527,686 540,676 554,677 567,688 580,697 607,716 621,723 629,730 643,733 672,733 683,727 707,722 726,716 744,714 753,715 785,712 803,713 831,721 863,723 881,723 895,727 908,728 927,722 940,718 961,712 970,713 995,722 1016,726 1036,726 1064,724 1077,732 1091,742 1111,747"/>

<!-- IV -->
<g fill="none" stroke-width="1.2" stroke-linejoin="round">
<polyline stroke="#f23645" points="10,819 22,818"/>
<polyline stroke="#4caf50" points="22,818 40,814 54,814"/>
<polyline stroke="#f23645" points="54,814 60,822 80,822 112,820 134,820 156,819 174,821 183,818"/>
<polyline stroke="#4caf50" points="183,818 192,799 205,798 219,803 228,803 237,796 246,796 254,793 263,803 272,778 281,777 297,777 308,780 317,779 326,777 531,777 549,778 560,777 576,777 594,777"/>
<polyline stroke="#f23645" points="594,777 605,819"/>
<polyline stroke="#4caf50" points="605,819 613,777"/>
<polyline stroke="#f23645" points="613,777 621,819"/>
<polyline stroke="#4caf50" points="621,819 629,777 638,778 647,777"/>
<polyline stroke="#f23645" points="647,777 656,819"/>
<polyline stroke="#4caf50" points="656,819 665,778 674,780 683,779"/>
<polyline stroke="#f23645" points="683,779 691,817 717,819 748,819 752,818 790,816 817,819 883,819"/>
<polyline stroke="#4caf50" points="883,819 892,778 901,783 917,781 927,813 945,812 961,807 979,815 988,816"/>
<polyline stroke="#f23645" points="988,816 995,816 1013,819 1045,821 1068,821 1086,821 1100,822 1111,820"/>
</g>
</g>

<!-- pane labels -->
<g font-size="12" fill="#131722">
<text x="18" y="557">BBW</text><text x="49" y="557" fill="#2962ff">16.20</text><text x="85" y="557" fill="#f23645">41.91</text><text x="123" y="557" fill="#089981">1.75</text>
<text x="18" y="614">ROC</text><text x="46" y="614">−4.94</text>
<text x="18" y="683">PPO</text><text x="48" y="683" fill="#ffcdd2">−1.11%</text><text x="91" y="683" fill="#2962ff">−0.37%</text><text x="134" y="683" fill="#ff6d00">0.74%</text>
<text x="18" y="789">Implied Volatility Suite</text><text x="148" y="789" fill="#f23645">45.062</text>
</g>

<!-- time axis -->
<g font-size="13" fill="#131722" text-anchor="middle">
<text x="53.5" y="848">24</text>
<text x="158.4" y="848">26</text>
<text x="263.3" y="848" font-weight="bold">Mar</text>
<text x="368.2" y="848">4</text>
<text x="473.1" y="848">6</text>
<text x="578" y="848">10</text>
<text x="682.9" y="848">12</text>
<text x="787.8" y="848">16</text>
<text x="892.7" y="848">18</text>
<text x="997.6" y="848">20</text>
<text x="1102.5" y="848">24</text>
<text x="1207.4" y="848">26</text>
</g>
<svg x="1300" y="830" width="16" height="28" overflow="hidden"><text x="12" y="18" font-size="13" fill="#131722" text-anchor="middle">30</text></svg>

<!-- TradingView logo -->
<g fill="#131722">
<path d="M12 882H26V897H19.5V888H12Z"/>
<circle cx="30.5" cy="885" r="2.8"/>
<path d="M35 882H42L34.5 897H27.5Z"/>
<text x="48" y="897" font-size="21" font-weight="bold" textLength="121" lengthAdjust="spacingAndGlyphs">TradingView</text>
</g>
</svg>
</body></html>
